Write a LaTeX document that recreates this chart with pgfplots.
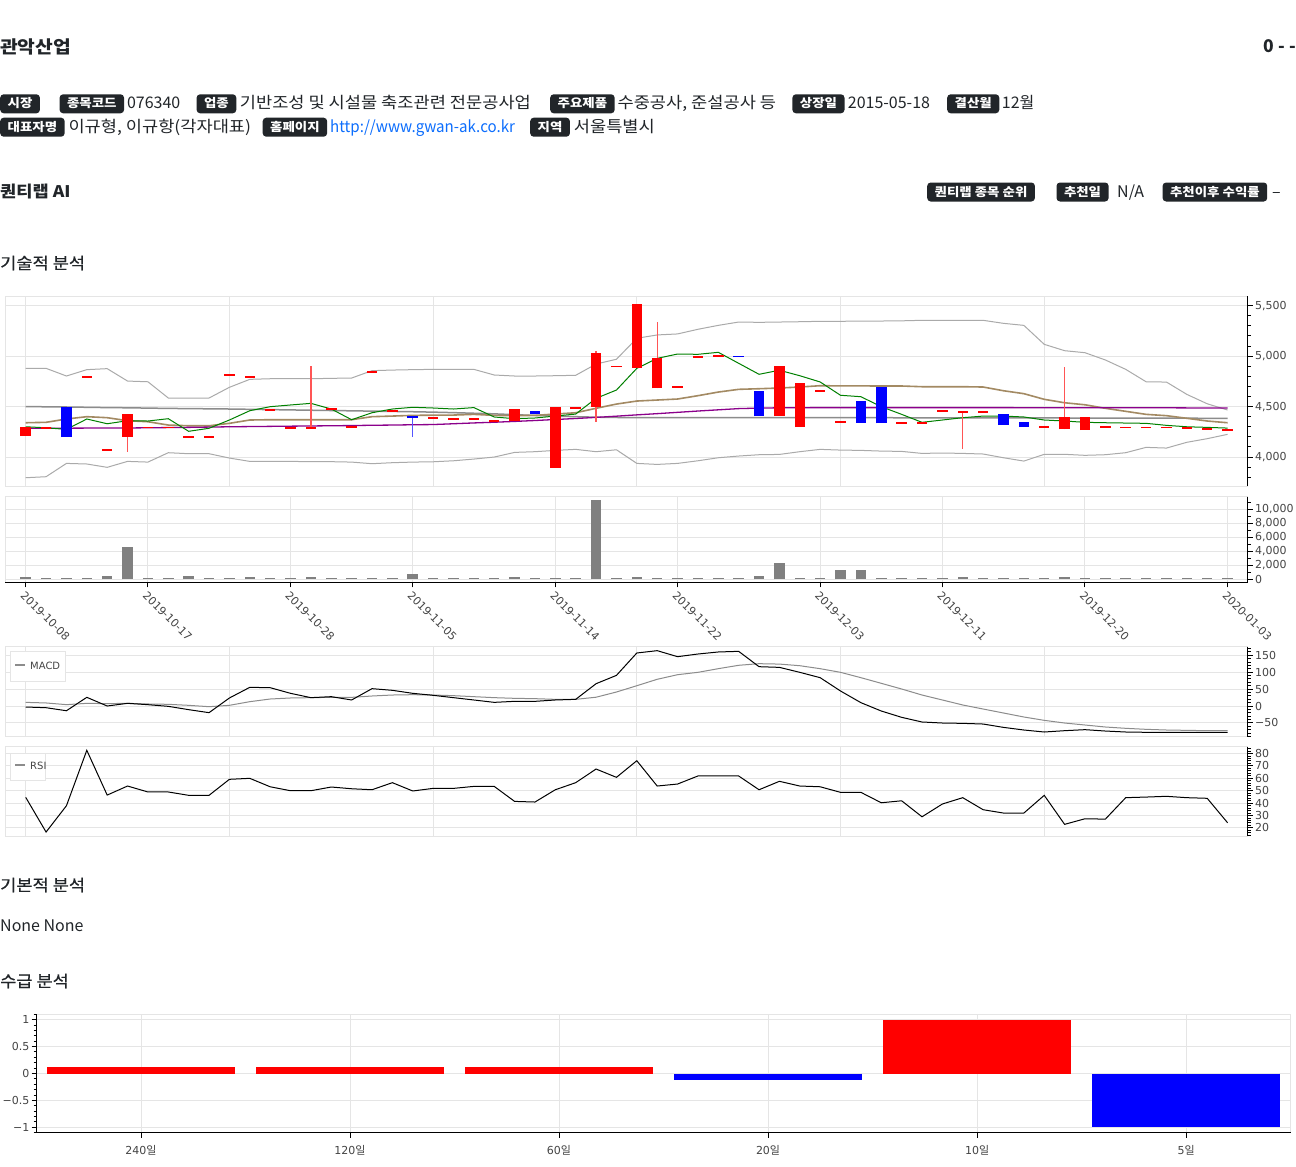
\documentclass[border=0pt]{standalone}
\usepackage{fontspec}
\setmainfont{Noto Sans CJK KR}
\newfontfamily\tickfont{DejaVu Sans}
\newfontfamily\krw[FakeStretch=1.1]{Noto Sans CJK KR}
\newfontfamily\badgefont[FakeStretch=1.12]{Noto Sans CJK KR}
\newfontfamily\linkf[FakeStretch=0.945]{Noto Sans CJK KR}
\newfontfamily\medfont[FakeBold=0.5,FakeStretch=1.1]{Noto Sans CJK KR}
\usepackage{pgfplots}
\usepackage{pgfplotstable}
\pgfplotsset{compat=1.18}
\newcommand\fs[1]{\fontsize{#1pt}{#1pt}\selectfont}
\definecolor{badgebg}{HTML}{212529}
\definecolor{txt}{HTML}{212529}
\definecolor{gridc}{HTML}{E5E5E5}
\definecolor{tickc}{HTML}{444444}
\definecolor{linkc}{HTML}{0D6EFD}
\definecolor{bandc}{HTML}{AAAAAA}
\definecolor{midc}{HTML}{8C8C8C}
\definecolor{tanc}{HTML}{A38A63}
\definecolor{purp}{HTML}{8B008B}
\definecolor{grn}{HTML}{008000}
\definecolor{volc}{HTML}{808080}
\definecolor{sigc}{HTML}{8C8C8C}
\definecolor{redw}{HTML}{FF5555}
\definecolor{bluew}{HTML}{5555FF}

\pgfplotstableread{
i U L M G T P VOL MB MS RSI
0 4879 3795 4500 4300 4340 4285 300 -3 10.8 44.7
1 4879 3805 4498 4290 4344 4285 200 -5 9 16.7
2 4803 3937 4496 4274 4377 4286 180 -14 4 37.9
3 4866 3931 4493 4377 4400 4287 180 25.7 7.9 82.6
4 4876 3898 4490 4330 4390 4288 500 0 7 46.5
5 4753 3957 4488 4360 4360 4288 4600 7.9 7.9 53.8
6 4746 3950 4485 4357 4350 4290 180 3.9 6 49
7 4585 4043 4482 4380 4317 4292 180 -1 5 49
8 4585 4033 4480 4255 4310 4294 500 -10.8 2 46.3
9 4585 4033 4478 4285 4310 4297 180 -19.7 -2 46.3
10 4691 3990 4476 4367 4334 4300 180 23.7 2 59.2
11 4770 3957 4473 4459 4367 4302 280 55.2 12.8 60
12 4776 3957 4470 4499 4370 4304 180 54.2 20.7 53.2
13 4776 3957 4467 4516 4370 4306 180 37.5 23.7 50
14 4776 3954 4464 4532 4370 4308 280 24.7 24.7 50
15 4780 3954 4461 4476 4370 4310 180 27.6 25.6 53
16 4783 3950 4458 4370 4370 4312 180 17.8 25.6 51.6
17 4856 3934 4455 4439 4400 4315 180 51.3 29.6 50.8
18 4862 3944 4452 4476 4406 4317 180 46.4 32.5 56.5
19 4866 3950 4449 4493 4413 4320 700 37.5 33.5 49.8
20 4869 3953 4445 4486 4415 4322 180 31.6 32.5 51.9
21 4869 3963 4440 4476 4416 4330 180 24.7 30.6 51.9
22 4869 3980 4434 4490 4423 4338 180 17.8 27.6 53.5
23 4813 4000 4428 4397 4413 4345 180 10.8 24.7 53.5
24 4803 4046 4420 4380 4410 4353 280 13.8 22.7 41.4
25 4803 4053 4412 4387 4413 4362 180 13.8 21.7 40.9
26 4806 4066 4406 4406 4426 4372 180 17.8 19.7 50.8
27 4810 4076 4400 4426 4439 4382 180 19.7 19.7 56.5
28 4922 4053 4395 4582 4483 4393 11300 66 26 67.5
29 4969 4072 4392 4664 4525 4405 180 90.6 41.4 60.8
30 5177 3937 4390 4879 4555 4418 280 156.8 60 74.2
31 5210 3927 4390 4978 4565 4430 180 163.7 79 53.8
32 5220 3937 4390 5021 4575 4443 180 145.9 92.6 55.4
33 5266 3963 4390 5018 4608 4456 180 153.8 99.6 61.9
34 5305 3993 4390 5038 4644 4468 180 159.8 110.4 61.9
35 5338 4010 4390 4929 4671 4480 180 161.7 120.4 61.9
36 5335 4023 4390 4820 4677 4485 500 116.3 125.2 50.8
37 5338 4026 4390 4860 4684 4488 2300 114.3 124 57.6
38 5341 4053 4390 4806 4694 4489 180 99.6 119.2 53.8
39 5345 4076 4390 4744 4707 4490 180 83.8 110.4 53.2
40 5345 4069 4390 4612 4705 4490 1350 44.4 99.6 48.7
41 5348 4066 4390 4598 4705 4490 1300 9.9 83.8 48.7
42 5348 4059 4390 4499 4704 4490 180 -14.8 67.1 40.3
43 5350 4056 4389 4423 4704 4490 180 -33.5 50.3 41.9
44 5355 4036 4389 4344 4697 4490 180 -47.3 32.5 29
45 5355 4040 4389 4367 4697 4490 180 -50.3 17.8 39.3
46 5355 4036 4388 4390 4697 4490 280 -51.3 3 44.4
47 5355 4030 4388 4406 4694 4490 180 -53.3 -8.9 34.7
48 5325 3993 4388 4406 4657 4490 180 -63.2 -20.7 32
49 5305 3960 4387 4397 4628 4489 180 -71 -32.5 32
50 5117 4027 4387 4367 4572 4489 180 -76.9 -42.4 46.3
51 5054 4027 4387 4357 4538 4489 280 -73 -50.3 22.9
52 5034 4017 4386 4344 4518 4489 250 -70 -56.2 27.4
53 4962 4023 4386 4340 4483 4488 180 -74 -62.1 27.1
54 4869 4043 4386 4337 4453 4488 180 -76.9 -66 44.4
55 4746 4096 4385 4334 4423 4488 180 -77.8 -69 44.9
56 4743 4089 4385 4314 4410 4488 180 -77.8 -71 45.5
57 4621 4146 4385 4300 4384 4487 180 -77.8 -72 44.4
58 4528 4182 4384 4294 4357 4487 180 -77.8 -73 43.9
59 4466 4225 4384 4287 4340 4487 180 -77.8 -73 24.2
}\maindata

\pgfplotstableread{
x y
0 4210
0 4295
0 nan
1 4282
1 4298
1 nan
3 4785
3 4801
3 nan
4 4064
4 4080
4 nan
5 4200
5 4426
5 nan
6 4286
6 4302
6 nan
7 4286
7 4302
7 nan
8 4190
8 4206
8 nan
9 4190
9 4206
9 nan
10 4805
10 4821
10 nan
11 4788
11 4804
11 nan
12 4458
12 4474
12 nan
13 4282
13 4298
13 nan
14 4282
14 4298
14 nan
15 4468
15 4484
15 nan
16 4289
16 4305
16 nan
17 4832
17 4848
17 nan
18 4451
18 4467
18 nan
20 4379
20 4395
20 nan
21 4372
21 4388
21 nan
22 4366
22 4382
22 nan
23 4352
23 4368
23 nan
24 4354
24 4474
24 nan
26 3894
26 4494
26 nan
27 4475
27 4491
27 nan
28 4499
28 5028
28 nan
29 4891
29 4907
29 nan
30 4885
30 5515
30 nan
31 4681
31 4985
31 nan
32 4686
32 4702
32 nan
33 4986
33 5002
33 nan
34 4996
34 5012
34 nan
37 4406
37 4902
37 nan
38 4297
38 4734
38 nan
39 4646
39 4662
39 nan
40 4342
40 4358
40 nan
43 4332
43 4348
43 nan
44 4332
44 4348
44 nan
45 4451
45 4467
45 nan
46 4441
46 4457
46 nan
47 4438
47 4454
47 nan
50 4292
50 4308
50 nan
51 4275
51 4400
51 nan
52 4268
52 4400
52 nan
53 4292
53 4308
53 nan
54 4286
54 4302
54 nan
55 4286
55 4302
55 nan
56 4286
56 4302
56 nan
57 4279
57 4295
57 nan
58 4270
58 4286
58 nan
59 4257
59 4273
}\redbody

\pgfplotstableread{
x y
2 4198
2 4499
2 nan
19 4386
19 4406
19 nan
25 4427
25 4453
25 nan
35 4990
35 5006
35 nan
36 4406
36 4654
36 nan
41 4340
41 4555
41 nan
42 4334
42 4697
42 nan
48 4317
48 4423
48 nan
49 4300
49 4344
}\bluebody

\pgfplotstableread{
x y
5 4050
5 4426
5 nan
14 4290
14 4900
14 nan
28 4350
28 5050
28 nan
31 4680
31 5335
31 nan
46 4082
46 4449
46 nan
51 4275
51 4890
}\redwick

\pgfplotstableread{
x y
19 4200
19 4406
}\bluewick

\pgfplotsset{
 bk/.style={scale only axis, anchor=north west,
   axis line style={draw=gridc, line width=1pt},
   grid=major, major grid style={draw=gridc, line width=1pt},
   tick align=outside, major tick length=5pt, minor tick length=3pt,
   tick style={black, line width=1pt},
   ticklabel style={font=\tickfont\fs{11}, text=tickc, inner sep=2pt},
   scaled y ticks=false, scaled x ticks=false,
   clip=true, width=1242.6pt, xmin=-1, xmax=60},
 hidx/.style={xtick={0,10,20,30,40,50}, xticklabels={,,,,,}, xtick style={draw=none}},
 ry/.style={ytick pos=right, yticklabel pos=right},
}
\tikzset{
 badge/.style={fill=badgebg, text=white, rounded corners=3.5pt, font=\fs{12}\badgefont\bfseries,
   inner xsep=7.5pt, inner ysep=0pt, minimum height=19pt, text height=9.5pt, text depth=1.5pt, anchor=west},
 tx/.style={anchor=base west, inner sep=0pt, text=txt, font=\fs{16}},
 tk/.style={anchor=base west, inner sep=0pt, text=txt, font=\fs{16}\krw},
}

\begin{document}
\begin{tikzpicture}
\useasboundingbox (0pt,0pt) rectangle (1296pt,-1167pt);
\fill[white] (0pt,0pt) rectangle (1296pt,-1167pt);

% header
\node[tx, font=\fs{17.5}\krw\bfseries] at (0pt,-53pt) {관악산업};
\node[anchor=base east, inner sep=0pt, text=txt, font=\fs{17.5}\bfseries] at (1296pt,-52.7pt) {0 - -};

\node[badge] at (0pt,-103.8pt) {시장};
\node[badge] at (59.4pt,-103.8pt) {종목코드};
\node[tx] at (126.8pt,-108.5pt) {076340};
\node[badge] at (196.4pt,-103.8pt) {업종};
\node[tk] at (239.7pt,-108.5pt) {기반조성 및 시설물 축조관련 전문공사업};
\node[badge] at (550pt,-103.8pt) {주요제품};
\node[tk] at (617.4pt,-108.5pt) {수중공사, 준설공사 등};
\node[badge] at (792.2pt,-103.8pt) {상장일};
\node[tx] at (847.7pt,-108.5pt) {2015-05-18};
\node[badge] at (947pt,-103.8pt) {결산월};
\node[tx] at (1001.7pt,-108.5pt) {12월};

\node[badge] at (0pt,-127.2pt) {대표자명};
\node[tk] at (68.3pt,-132pt) {이규형, 이규항(각자대표)};
\node[badge] at (262.5pt,-127.2pt) {홈페이지};
\node[tx, text=linkc, font=\fs{16}\linkf] at (330pt,-132pt) {http://www.gwan-ak.co.kr};
\node[badge] at (530pt,-127.2pt) {지역};
\node[tk] at (573.7pt,-132pt) {서울특별시};

\node[tx, font=\fs{16}\krw\bfseries] at (0pt,-197pt) {퀀티랩 AI};
\node[badge] at (927pt,-192pt) {퀀티랩 종목 순위};
\node[badge] at (1056.3pt,-192pt) {추천일};
\node[tx] at (1117pt,-197.7pt) {N/A};
\node[badge] at (1162.4pt,-192pt) {추천이후 수익률};
\node[tx] at (1272pt,-197.7pt) {–};

\node[tx, font=\fs{16}\medfont] at (0pt,-269pt) {기술적 분석};
\node[tx, font=\fs{16}\medfont] at (0pt,-891pt) {기본적 분석};
\node[tx] at (0pt,-931pt) {None None};
\node[tx, font=\fs{16}\medfont] at (0pt,-987pt) {수급 분석};

% candlestick chart
\begin{axis}[bk, hidx, ry, at={(5.33pt,-296.3pt)}, height=189.7pt,
  ymin=3713, ymax=5593,
  ytick={4000,4500,5000,5500}, yticklabels={{4,000},{4,500},{5,000},{5,500}},
  minor ytick={3800,3900,...,5500}]
\addplot[bandc, line width=1pt] table[x=i,y=U]{\maindata};
\addplot[bandc, line width=1pt] table[x=i,y=L]{\maindata};
\addplot[midc, line width=1.5pt] table[x=i,y=M]{\maindata};
\addplot[tanc, line width=1.6pt] table[x=i,y=T]{\maindata};
\addplot[purp, line width=1.3pt] table[x=i,y=P]{\maindata};
\addplot[grn, line width=1pt] table[x=i,y=G]{\maindata};
\addplot[redw, line width=1.3pt, unbounded coords=jump] table[x=x,y=y]{\redwick};
\addplot[bluew, line width=1.3pt, unbounded coords=jump] table[x=x,y=y]{\bluewick};
\addplot[red, line width=10.5pt, line cap=butt, unbounded coords=jump] table[x=x,y=y]{\redbody};
\addplot[blue, line width=10.5pt, line cap=butt, unbounded coords=jump] table[x=x,y=y]{\bluebody};
\end{axis}
\draw[black, line width=1pt] (1247.9pt,-296.3pt) -- (1247.9pt,-486pt);

% volume chart
\begin{axis}[bk, ry, at={(5.33pt,-496.7pt)}, height=85.6pt,
  ymin=-428.6, ymax=11800,
  xtick={0,6,13,19,26,32,39,45,52,59},
  xticklabels={2019-10-08,2019-10-17,2019-10-28,2019-11-05,2019-11-14,2019-11-22,2019-12-03,2019-12-11,2019-12-20,2020-01-03},
  xtick pos=bottom,
  xticklabel style={rotate=-45, anchor=north west},
  ytick={0,2000,4000,6000,8000,10000}, yticklabels={0,{2,000},{4,000},{6,000},{8,000},{10,000}},
  minor ytick={1000,3000,...,11000}]
\addplot[ycomb, draw=volc, line width=10.5pt] table[x=i,y=VOL]{\maindata};
\end{axis}
\draw[black, line width=1pt] (5.33pt,-582.3pt) -- (1247.9pt,-582.3pt);
\draw[black, line width=1pt] (1247.9pt,-496.7pt) -- (1247.9pt,-582.3pt);

% MACD
\begin{axis}[bk, hidx, ry, at={(5.33pt,-646.7pt)}, height=90pt,
  ymin=-90.8, ymax=175.4,
  ytick={-50,0,50,100,150}, yticklabels={−50,0,50,100,150},
  minor ytick={-90,-80,...,170}]
\addplot[sigc, line width=1pt] table[x=i,y=MS]{\maindata};
\addplot[black, line width=1pt] table[x=i,y=MB]{\maindata};
\end{axis}
\draw[black, line width=1pt] (1247.9pt,-646.7pt) -- (1247.9pt,-736.7pt);
\draw[gridc, fill=white, line width=1pt] (10.4pt,-651.7pt) rectangle (65pt,-681.7pt);
\draw[sigc, line width=1.5pt] (15.3pt,-665pt) -- (24.9pt,-665pt);
\node[anchor=west, inner sep=0pt, font=\tickfont\fs{10}, text=tickc] at (30pt,-666pt) {MACD};

% RSI
\begin{axis}[bk, hidx, ry, at={(5.33pt,-746.7pt)}, height=89.3pt,
  ymin=13.5, ymax=85.5,
  ytick={20,30,40,50,60,70,80}, yticklabels={20,30,40,50,60,70,80},
  minor ytick={14,16,...,84}]
\addplot[black, line width=1pt] table[x=i,y=RSI]{\maindata};
\end{axis}
\draw[black, line width=1pt] (1247.9pt,-746.7pt) -- (1247.9pt,-836pt);
\draw[gridc, fill=white, line width=1pt] (10.4pt,-753.3pt) rectangle (45.6pt,-780pt);
\draw[sigc, line width=1.5pt] (15.3pt,-765pt) -- (24.9pt,-765pt);
\node[anchor=west, inner sep=0pt, font=\tickfont\fs{10}, text=tickc] at (30pt,-766pt) {RSI};

% supply/demand bars
\begin{axis}[bk, at={(36.5pt,-1014.3pt)}, width=1254.1pt, height=118.4pt,
  xmin=-0.5, xmax=5.5, ymin=-1.1, ymax=1.1,
  xtick={0,1,2,3,4,5},
  xticklabels={{240{\rmfamily 일}},{120{\rmfamily 일}},{60{\rmfamily 일}},{20{\rmfamily 일}},{10{\rmfamily 일}},{5{\rmfamily 일}}},
  xticklabel style={yshift=-5pt},
  xtick pos=bottom, ytick pos=left,
  ytick={-1,-0.5,0,0.5,1}, yticklabels={−1,−0.5,0,0.5,1},
  minor ytick={-1.1,-0.9,-0.8,-0.7,-0.6,-0.4,-0.3,-0.2,-0.1,0.1,0.2,0.3,0.4,0.6,0.7,0.8,0.9,1.1}]
\addplot[ycomb, draw=red, line width=188.1pt] coordinates {(0,0.12) (1,0.12) (2,0.12) (4,1)};
\addplot[ycomb, draw=blue, line width=188.1pt] coordinates {(3,-0.125) (5,-1)};
\end{axis}
\draw[black, line width=1pt] (36.5pt,-1014.3pt) -- (36.5pt,-1132.7pt) -- (1290.6pt,-1132.7pt);
\end{tikzpicture}
\end{document}
